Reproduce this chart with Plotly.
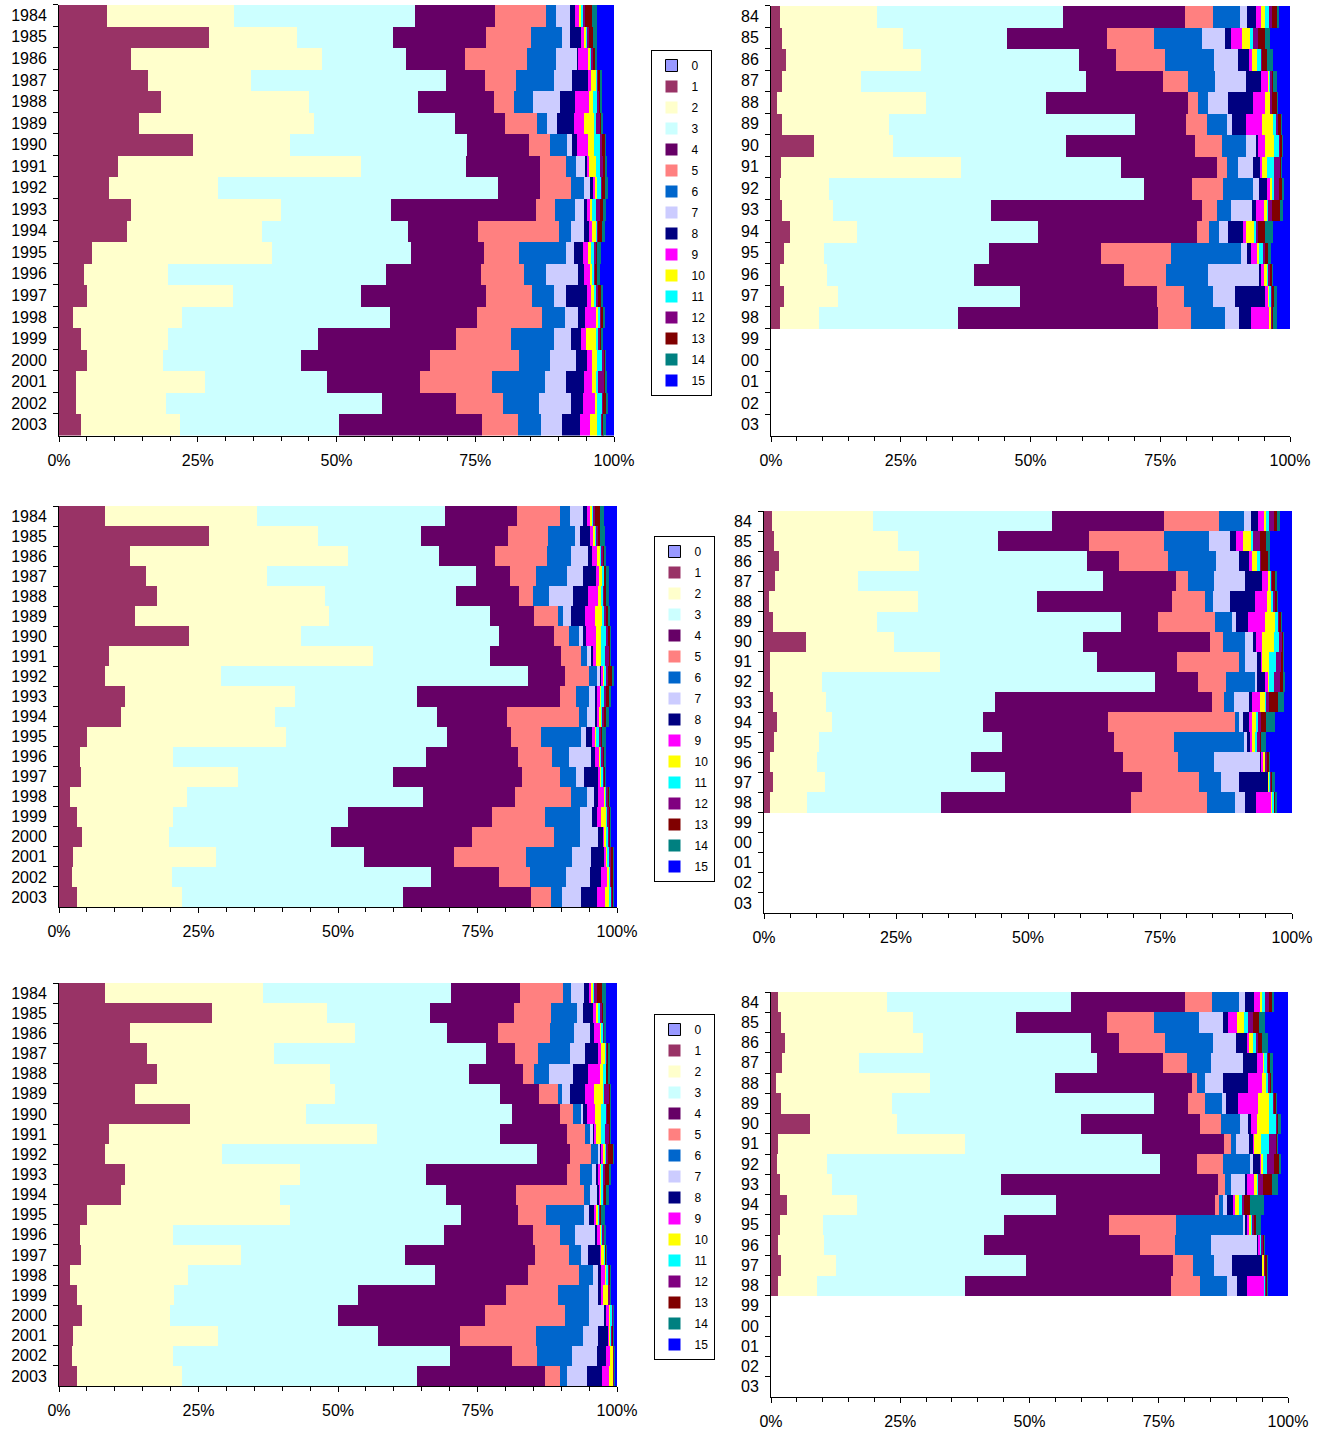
import plotly.graph_objects as go

# ---------------- data ----------------
categories = ["0", "1", "2", "3", "4", "5", "6", "7", "8", "9", "10", "11", "12", "13", "14", "15"]
colors = ["#9999FF", "#993366", "#FFFFCC", "#CCFFFF", "#660066", "#FF8080", "#0066CC", "#CCCCFF",
          "#000080", "#FF00FF", "#FFFF00", "#00FFFF", "#800080", "#800000", "#008080", "#0000FF"]

years_long = ["1984", "1985", "1986", "1987", "1988", "1989", "1990", "1991", "1992", "1993",
              "1994", "1995", "1996", "1997", "1998", "1999", "2000", "2001", "2002", "2003"]
years_short = ["84", "85", "86", "87", "88", "89", "90", "91", "92", "93",
               "94", "95", "96", "97", "98", "99", "00", "01", "02", "03"]
years_short_with_data = ["84", "85", "86", "87", "88", "89", "90", "91", "92", "93",
                         "94", "95", "96", "97", "98"]

x_tick_values = [0, 25, 50, 75, 100]
x_tick_labels = ["0%", "25%", "50%", "75%", "100%"]

# each row: one year, shares (%) of categories 0..15
top_left = [
    [0.0, 8.6, 22.9, 32.7, 14.4, 9.2, 1.8, 2.6, 0.9, 0.7, 0.5, 0.3, 0.3, 1.2, 0.9, 3.1],
    [0.0, 27.1, 15.8, 17.4, 16.7, 8.1, 5.6, 1.4, 2.1, 0.5, 0.4, 0.3, 0.2, 0.7, 0.7, 3.1],
    [0.0, 12.9, 34.6, 15.1, 10.7, 11.1, 5.2, 3.9, 0.1, 1.8, 0.4, 0.3, 0.2, 0.4, 0.4, 3.0],
    [0.0, 16.0, 18.6, 35.2, 7.0, 5.6, 6.7, 3.4, 2.9, 0.4, 0.9, 0.4, 0.1, 0.4, 0.3, 2.1],
    [0.0, 18.4, 26.7, 19.8, 13.7, 3.5, 3.4, 4.9, 2.8, 2.4, 0.8, 0.9, 0.2, 0.3, 0.3, 2.1],
    [0.0, 14.4, 31.7, 25.6, 8.9, 5.9, 1.8, 1.8, 3.0, 1.9, 1.8, 0.3, 0.8, 0.3, 0.2, 2.0],
    [0.0, 24.1, 17.4, 31.9, 11.2, 3.8, 3.0, 0.9, 0.9, 2.0, 1.1, 1.2, 0.3, 0.5, 0.2, 1.4],
    [0.0, 10.6, 43.9, 18.8, 13.3, 4.7, 1.8, 1.6, 0.5, 0.3, 1.3, 0.7, 0.5, 0.4, 0.3, 1.3],
    [0.0, 9.1, 19.7, 50.5, 7.6, 5.6, 2.4, 1.0, 0.7, 0.3, 0.3, 0.8, 0.2, 0.5, 0.5, 1.1],
    [0.0, 12.9, 27.2, 19.7, 26.2, 3.4, 3.6, 1.6, 0.7, 0.5, 0.3, 0.7, 0.7, 0.7, 0.5, 1.4],
    [0.0, 12.2, 24.5, 26.2, 12.7, 14.6, 2.2, 2.2, 1.0, 0.6, 0.7, 0.2, 0.1, 0.8, 0.5, 1.6],
    [0.0, 5.9, 32.5, 25.2, 13.2, 6.3, 8.5, 1.4, 1.6, 0.9, 0.6, 0.4, 0.5, 0.2, 0.7, 2.3],
    [0.0, 4.5, 15.1, 39.5, 17.0, 7.9, 3.9, 5.8, 1.1, 1.0, 0.6, 0.3, 0.2, 0.3, 0.4, 2.6],
    [0.0, 5.0, 26.4, 23.1, 22.6, 8.3, 4.0, 2.3, 3.8, 0.7, 0.6, 0.3, 0.3, 0.7, 0.2, 2.0],
    [0.0, 2.5, 19.6, 37.6, 15.7, 11.7, 4.1, 2.4, 1.2, 2.2, 0.2, 0.5, 0.2, 0.2, 0.4, 1.6],
    [0.0, 3.9, 15.7, 27.0, 24.9, 9.9, 7.8, 3.0, 1.8, 1.0, 1.9, 0.2, 0.4, 0.2, 0.4, 1.9],
    [0.0, 5.0, 13.7, 25.0, 23.3, 16.1, 5.6, 4.7, 2.0, 0.9, 0.9, 0.9, 0.4, 0.1, 0.2, 1.4],
    [0.0, 3.0, 23.4, 22.0, 16.8, 13.0, 9.6, 3.7, 3.3, 1.4, 0.9, 0.3, 1.0, 0.3, 0.2, 1.3],
    [0.0, 3.0, 16.2, 39.0, 13.3, 8.5, 6.5, 5.7, 2.2, 2.2, 0.4, 0.9, 0.2, 0.6, 0.2, 1.1],
    [0.0, 3.9, 18.0, 28.7, 25.8, 6.5, 4.2, 3.7, 3.3, 1.8, 1.2, 0.9, 0.1, 0.2, 0.5, 1.4],
]

mid_left = [
    [0.0, 8.2, 27.3, 33.7, 12.9, 7.7, 1.8, 2.3, 0.7, 0.5, 0.5, 0.2, 0.3, 0.9, 0.7, 2.3],
    [0.0, 27.0, 19.6, 18.5, 15.6, 7.2, 4.8, 0.9, 1.8, 0.6, 0.5, 0.2, 0.3, 0.3, 0.8, 2.2],
    [0.0, 12.7, 39.1, 16.3, 10.0, 9.3, 4.3, 3.1, 0.7, 1.0, 0.5, 0.3, 0.2, 0.3, 0.2, 2.0],
    [0.0, 15.7, 21.7, 37.5, 6.1, 4.7, 5.5, 2.9, 2.3, 0.6, 0.6, 0.3, 0.1, 0.2, 0.5, 1.5],
    [0.0, 17.5, 30.3, 23.4, 11.3, 2.5, 2.9, 4.3, 2.7, 1.8, 0.5, 0.5, 0.2, 0.3, 0.4, 1.5],
    [0.0, 13.6, 34.8, 28.8, 7.9, 4.3, 1.0, 1.4, 2.5, 1.8, 1.3, 0.3, 0.3, 0.5, 0.3, 1.2],
    [0.0, 23.3, 20.2, 35.4, 9.9, 2.7, 1.8, 0.7, 0.6, 1.8, 0.9, 0.9, 0.2, 0.5, 0.1, 1.1],
    [0.0, 8.9, 47.4, 21.1, 12.6, 3.6, 1.2, 0.7, 0.3, 0.5, 0.9, 0.7, 0.8, 0.2, 0.1, 1.1],
    [0.0, 8.2, 20.8, 55.1, 6.5, 4.3, 1.6, 0.5, 0.3, 0.2, 0.3, 0.3, 0.2, 0.9, 0.2, 0.6],
    [0.0, 11.8, 30.5, 21.9, 25.6, 2.9, 2.3, 1.2, 0.2, 0.7, 0.2, 0.3, 0.4, 0.5, 0.4, 1.1],
    [0.0, 11.1, 27.6, 29.1, 12.5, 12.9, 1.4, 1.4, 0.5, 0.2, 0.5, 0.2, 0.2, 0.4, 0.5, 1.5],
    [0.0, 5.0, 35.7, 28.9, 11.5, 5.4, 7.2, 1.0, 1.0, 0.7, 0.2, 0.3, 0.5, 0.1, 0.7, 2.0],
    [0.0, 3.7, 16.7, 45.5, 16.5, 6.1, 2.9, 4.1, 0.7, 0.7, 0.3, 0.1, 0.4, 0.2, 0.2, 2.0],
    [0.0, 4.0, 28.2, 27.7, 23.3, 6.7, 2.9, 1.4, 2.5, 0.4, 0.4, 0.3, 0.2, 0.1, 0.2, 1.9],
    [0.0, 1.9, 21.0, 42.2, 16.6, 9.9, 3.0, 1.1, 0.8, 1.2, 0.1, 0.1, 0.4, 0.3, 0.1, 1.2],
    [0.0, 3.3, 17.1, 31.4, 25.8, 9.5, 6.3, 2.2, 0.9, 0.7, 0.9, 0.1, 0.4, 0.3, 0.1, 1.0],
    [0.0, 4.2, 15.5, 29.1, 25.2, 14.7, 4.6, 3.3, 1.0, 0.2, 0.3, 0.4, 0.2, 0.1, 0.2, 1.0],
    [0.0, 2.6, 25.5, 26.7, 16.0, 12.9, 8.4, 3.4, 2.2, 0.5, 0.2, 0.2, 0.5, 0.4, 0.1, 0.5],
    [0.0, 2.3, 17.9, 46.4, 12.2, 5.6, 6.5, 4.3, 2.0, 1.0, 0.5, 0.1, 0.2, 0.4, 0.1, 0.5],
    [0.0, 3.2, 18.8, 39.7, 23.0, 3.6, 2.0, 3.4, 2.9, 1.4, 0.9, 0.3, 0.2, 0.1, 0.2, 0.5],
]

bot_left = [
    [0.0, 8.2, 28.3, 33.6, 12.5, 7.7, 1.4, 2.3, 0.9, 0.5, 0.3, 0.1, 0.5, 1.0, 0.7, 1.9],
    [0.0, 27.4, 20.6, 18.5, 15.1, 6.6, 4.7, 1.0, 1.8, 0.6, 0.3, 0.5, 0.3, 0.1, 0.6, 1.9],
    [0.0, 12.7, 40.5, 16.4, 9.3, 9.2, 4.3, 3.0, 0.6, 1.2, 0.3, 0.3, 0.1, 0.1, 0.3, 1.9],
    [0.0, 15.7, 22.8, 38.1, 5.2, 4.2, 5.7, 2.7, 2.3, 0.5, 0.9, 0.2, 0.1, 0.1, 0.4, 1.2],
    [0.0, 17.5, 31.2, 24.8, 9.7, 2.0, 2.7, 4.3, 2.7, 2.2, 0.4, 0.7, 0.1, 0.1, 0.5, 1.2],
    [0.0, 13.6, 35.9, 29.6, 7.0, 3.5, 0.7, 1.4, 2.7, 1.6, 1.6, 0.2, 0.9, 0.2, 0.1, 1.1],
    [0.0, 23.4, 20.8, 36.8, 8.6, 2.3, 1.4, 0.5, 0.7, 1.3, 1.2, 1.0, 0.1, 0.5, 0.1, 1.1],
    [0.0, 8.9, 48.1, 22.0, 12.0, 3.1, 0.9, 0.7, 0.2, 0.3, 0.8, 0.7, 0.8, 0.2, 0.1, 1.1],
    [0.0, 8.2, 21.1, 56.6, 5.9, 3.8, 1.1, 0.5, 0.3, 0.2, 0.4, 0.2, 0.2, 1.0, 0.1, 0.6],
    [0.0, 11.8, 31.4, 22.6, 25.4, 2.3, 2.2, 0.8, 0.2, 0.5, 0.2, 0.2, 0.4, 0.6, 0.4, 1.1],
    [0.0, 11.1, 28.5, 29.8, 12.5, 12.2, 1.1, 1.2, 0.4, 0.2, 0.3, 0.2, 0.1, 0.5, 0.5, 1.4],
    [0.0, 5.0, 36.4, 30.7, 10.4, 5.0, 6.7, 0.9, 1.0, 0.5, 0.2, 0.3, 0.2, 0.1, 0.6, 2.2],
    [0.0, 3.7, 16.8, 48.5, 16.0, 4.8, 2.7, 3.8, 0.3, 0.6, 0.2, 0.1, 0.3, 0.1, 0.2, 2.0],
    [0.0, 4.0, 28.6, 29.6, 23.3, 6.1, 2.2, 1.2, 2.2, 0.1, 0.7, 0.1, 0.1, 0.1, 0.1, 1.8],
    [0.0, 1.9, 21.2, 44.2, 16.8, 9.1, 2.5, 0.9, 0.5, 0.9, 0.1, 0.3, 0.3, 0.1, 0.1, 1.1],
    [0.0, 3.3, 17.2, 33.1, 26.5, 9.3, 5.5, 1.6, 0.7, 0.2, 0.9, 0.1, 0.3, 0.1, 0.1, 1.0],
    [0.0, 4.2, 15.8, 30.1, 26.4, 14.2, 4.3, 2.7, 0.5, 0.5, 0.2, 0.4, 0.1, 0.1, 0.1, 0.5],
    [0.0, 2.6, 26.0, 28.7, 14.7, 13.6, 8.4, 2.7, 1.8, 0.3, 0.1, 0.3, 0.1, 0.1, 0.1, 0.6],
    [0.0, 2.3, 18.1, 49.8, 11.0, 4.5, 6.3, 4.5, 1.6, 0.8, 0.5, 0.1, 0.1, 0.1, 0.1, 0.3],
    [0.0, 3.2, 18.8, 42.2, 23.0, 2.7, 1.2, 3.6, 2.7, 1.2, 0.8, 0.1, 0.1, 0.1, 0.1, 0.3],
]

top_right = [
    [0.0, 1.7, 18.7, 35.8, 23.5, 5.4, 5.2, 1.4, 1.7, 1.0, 0.6, 0.8, 0.7, 0.9, 0.4, 2.1],
    [0.0, 2.1, 23.3, 20.1, 19.3, 9.0, 9.3, 4.4, 1.2, 2.1, 1.5, 0.6, 1.0, 1.2, 1.0, 3.9],
    [0.0, 2.9, 26.0, 30.4, 7.2, 9.4, 9.4, 4.6, 2.1, 0.6, 0.9, 0.9, 0.2, 0.9, 1.1, 3.3],
    [0.0, 2.1, 15.2, 43.4, 14.7, 4.9, 5.2, 6.0, 2.9, 1.3, 0.3, 0.2, 0.3, 0.2, 0.7, 2.5],
    [0.0, 1.2, 28.7, 23.1, 27.2, 1.9, 2.1, 3.7, 4.8, 2.4, 1.0, 0.1, 0.2, 1.0, 0.1, 2.4],
    [0.0, 2.1, 20.6, 47.6, 9.8, 3.9, 3.9, 1.0, 2.7, 3.1, 2.1, 0.7, 0.2, 0.7, 0.2, 1.5],
    [0.0, 8.3, 15.2, 33.2, 24.8, 5.2, 4.6, 2.0, 0.3, 1.4, 1.8, 1.0, 0.2, 0.3, 0.1, 1.4],
    [0.0, 1.9, 34.7, 30.8, 18.5, 1.9, 2.1, 2.9, 1.4, 0.3, 1.0, 1.4, 1.0, 0.4, 0.1, 1.5],
    [0.0, 1.7, 9.4, 60.7, 9.3, 5.9, 5.8, 1.2, 1.6, 0.6, 0.3, 0.4, 1.0, 0.6, 0.3, 1.2],
    [0.0, 2.1, 9.8, 30.5, 40.8, 2.9, 2.8, 3.9, 0.8, 1.5, 0.8, 0.1, 0.7, 1.5, 0.6, 1.4],
    [0.0, 3.6, 12.9, 34.8, 30.7, 2.3, 1.9, 1.7, 2.9, 0.6, 1.5, 0.5, 0.3, 1.3, 1.6, 3.3],
    [0.0, 2.5, 7.8, 31.7, 21.6, 13.5, 13.5, 1.2, 0.8, 1.2, 0.3, 0.7, 0.5, 0.6, 0.6, 3.6],
    [0.0, 1.7, 9.0, 28.4, 28.9, 8.1, 8.1, 9.8, 0.4, 0.5, 0.7, 0.1, 0.5, 0.4, 0.1, 3.3],
    [0.0, 2.5, 10.4, 35.1, 26.4, 5.2, 5.6, 4.3, 5.8, 0.6, 0.3, 0.3, 0.2, 0.3, 0.6, 2.5],
    [0.0, 1.7, 7.5, 26.8, 38.4, 6.5, 6.5, 2.7, 2.3, 3.6, 0.3, 0.1, 0.1, 0.1, 0.8, 2.5],
]

mid_right = [
    [0.0, 1.5, 19.1, 33.9, 21.2, 10.4, 4.9, 1.3, 1.3, 1.1, 0.3, 0.7, 0.9, 0.6, 0.6, 2.2],
    [0.0, 1.9, 23.4, 19.0, 17.2, 14.2, 8.5, 4.0, 1.1, 1.5, 1.4, 0.5, 1.2, 1.1, 0.9, 4.1],
    [0.0, 2.9, 26.5, 31.8, 6.1, 9.2, 9.1, 4.5, 1.9, 0.6, 0.8, 0.7, 0.1, 1.3, 0.5, 4.1],
    [0.0, 2.1, 15.7, 46.4, 13.8, 2.2, 5.0, 5.9, 3.1, 1.3, 0.2, 0.4, 0.2, 0.3, 0.5, 2.8],
    [0.0, 1.0, 28.2, 22.5, 25.5, 6.2, 1.5, 3.2, 4.8, 2.2, 1.0, 0.2, 0.4, 0.5, 0.1, 2.6],
    [0.0, 1.7, 19.7, 46.1, 7.0, 10.8, 3.2, 0.8, 2.3, 3.2, 1.9, 0.6, 0.2, 0.4, 0.2, 1.8],
    [0.0, 8.0, 16.6, 35.8, 24.0, 2.4, 4.2, 1.7, 0.3, 1.3, 2.1, 1.1, 0.6, 0.1, 0.1, 1.6],
    [0.0, 1.1, 32.2, 29.7, 15.2, 11.7, 1.2, 2.2, 0.9, 0.1, 1.2, 1.3, 1.1, 0.3, 0.1, 1.6],
    [0.0, 1.1, 9.9, 63.2, 8.1, 5.3, 5.5, 0.4, 1.5, 0.6, 0.2, 0.8, 1.3, 0.6, 0.3, 1.3],
    [0.0, 1.7, 10.0, 32.1, 41.1, 2.2, 2.0, 2.8, 0.6, 1.5, 0.9, 0.1, 0.7, 1.7, 1.0, 1.6],
    [0.0, 2.4, 10.4, 28.8, 23.7, 23.9, 0.9, 0.8, 1.1, 0.6, 0.8, 0.2, 0.6, 0.9, 1.7, 3.3],
    [0.0, 1.9, 8.5, 34.6, 21.3, 11.3, 13.3, 0.6, 0.6, 0.5, 0.3, 0.5, 0.6, 0.2, 0.8, 5.0],
    [0.0, 1.1, 8.9, 29.2, 28.9, 10.4, 6.8, 8.9, 0.1, 0.4, 0.3, 0.1, 0.3, 0.5, 0.1, 4.1],
    [0.0, 1.7, 9.8, 34.1, 25.9, 10.8, 4.3, 3.4, 5.5, 0.1, 0.2, 0.2, 0.1, 0.2, 0.4, 3.3],
    [0.0, 1.1, 7.0, 25.4, 35.9, 14.4, 5.3, 2.0, 1.9, 3.1, 0.1, 0.3, 0.1, 0.1, 0.3, 2.9],
]

bot_right = [
    [0.0, 1.4, 21.1, 35.5, 22.1, 5.2, 5.2, 1.2, 1.7, 1.1, 0.4, 0.6, 0.9, 0.5, 0.4, 2.7],
    [0.0, 1.9, 25.5, 20.0, 17.6, 9.0, 8.7, 4.7, 1.0, 1.7, 1.4, 0.8, 0.9, 1.1, 1.2, 4.5],
    [0.0, 2.7, 26.7, 32.3, 5.4, 8.9, 9.3, 4.4, 2.1, 0.4, 0.8, 0.8, 0.2, 0.7, 1.2, 3.9],
    [0.0, 2.1, 15.0, 45.9, 12.8, 4.6, 4.7, 6.2, 2.7, 1.3, 0.1, 0.6, 0.2, 0.4, 0.5, 2.9],
    [0.0, 0.9, 29.9, 24.0, 26.5, 1.1, 1.4, 3.5, 4.9, 2.7, 0.9, 0.2, 0.4, 0.4, 0.2, 2.9],
    [0.0, 1.9, 21.5, 50.7, 6.6, 3.3, 3.3, 0.8, 2.3, 3.7, 2.3, 0.8, 0.2, 0.3, 0.2, 2.1],
    [0.0, 7.5, 16.8, 35.7, 23.1, 4.0, 3.7, 1.5, 0.6, 1.2, 2.3, 1.4, 0.2, 0.1, 0.6, 1.4],
    [0.0, 1.4, 36.0, 34.2, 15.9, 1.4, 0.9, 2.5, 1.0, 0.1, 1.2, 1.7, 1.3, 0.3, 0.1, 1.9],
    [0.0, 1.1, 9.7, 64.5, 7.2, 5.1, 5.2, 0.6, 1.3, 0.4, 0.3, 0.8, 1.3, 1.0, 0.4, 1.3],
    [0.0, 1.7, 10.1, 32.7, 41.8, 1.5, 1.1, 2.6, 0.5, 1.4, 0.6, 0.1, 0.9, 1.9, 1.1, 1.9],
    [0.0, 3.1, 13.5, 38.5, 30.6, 0.8, 0.8, 0.8, 1.1, 0.4, 0.8, 0.5, 0.4, 1.1, 2.7, 4.7],
    [0.0, 1.7, 8.3, 35.1, 20.3, 13.1, 13.0, 0.2, 0.4, 0.4, 0.4, 0.4, 0.3, 0.4, 0.8, 5.3],
    [0.0, 1.4, 8.9, 31.0, 30.2, 6.8, 6.9, 9.0, 0.1, 0.4, 0.1, 0.1, 0.3, 0.4, 0.1, 4.4],
    [0.0, 1.9, 10.7, 36.7, 28.5, 3.9, 4.0, 3.5, 5.8, 0.1, 0.3, 0.1, 0.1, 0.4, 0.1, 3.9],
    [0.0, 1.4, 7.5, 28.7, 39.9, 5.7, 5.2, 1.9, 1.9, 3.4, 0.1, 0.1, 0.1, 0.4, 0.1, 3.8],
]

# ---------------- layout helpers ----------------
W, H = 1328, 1433
FONT = "Liberation Sans, Arial, sans-serif"


def xdom(left, right):
    return [left / W, right / W]


def ydom(top, bottom):
    return [1 - bottom / H, 1 - top / H]


panels = [
    dict(rows=top_left, ylab=years_long, cats=years_long, xpx=(59, 614), ypx=(4.5, 435.5), legend="legend"),
    dict(rows=top_right, ylab=years_short_with_data, cats=years_short, xpx=(771, 1290), ypx=(5.5, 435.5), legend=None),
    dict(rows=mid_left, ylab=years_long, cats=years_long, xpx=(59, 617), ypx=(506, 907), legend="legend2"),
    dict(rows=mid_right, ylab=years_short_with_data, cats=years_short, xpx=(764, 1292), ypx=(511, 913), legend=None),
    dict(rows=bot_left, ylab=years_long, cats=years_long, xpx=(59, 617), ypx=(983, 1386), legend="legend3"),
    dict(rows=bot_right, ylab=years_short_with_data, cats=years_short, xpx=(771, 1288), ypx=(992, 1397), legend=None),
]

fig = go.Figure()
layout_axes = {}

for i, p in enumerate(panels):
    n = "" if i == 0 else str(i + 1)
    xref, yref = "x" + n, "y" + n
    for k, cat in enumerate(categories):
        vals = [row[k] for row in p["rows"]]
        fig.add_trace(go.Bar(
            x=vals, y=p["ylab"], orientation="h",
            name=cat, legendgroup="c" + cat,
            showlegend=p["legend"] is not None,
            legend=p["legend"] if p["legend"] else "legend",
            marker=dict(color=colors[k],
                        line=dict(width=1 if k == 0 else 0, color="black")),
            xaxis=xref, yaxis=yref,
            hovertemplate="%{y}: %{x:.1f}%<extra>" + cat + "</extra>",
        ))
    layout_axes["xaxis" + n] = dict(
        domain=xdom(*p["xpx"]), anchor=yref, range=[0, 100],
        tickmode="array", tickvals=x_tick_values, ticktext=x_tick_labels,
        ticks="outside", ticklen=5, tickcolor="black", tickwidth=1,
        minor=dict(dtick=5, tick0=0, ticks="outside", ticklen=4, tickcolor="black", tickwidth=1),
        showline=True, linecolor="black", linewidth=1,
        showgrid=False, zeroline=False, automargin=False,
        tickfont=dict(family=FONT, size=16, color="black"),
        ticklabelstandoff=5, fixedrange=True,
    )
    layout_axes["yaxis" + n] = dict(
        domain=ydom(*p["ypx"]), anchor=xref, type="category",
        categoryorder="array", categoryarray=p["cats"],
        range=[len(p["cats"]) - 0.5, -0.5],
        ticks="outside", tickson="boundaries", ticklen=5, tickcolor="black", tickwidth=1,
        showline=True, linecolor="black", linewidth=1,
        showgrid=False, zeroline=False, automargin=False,
        tickfont=dict(family=FONT, size=16, color="black"),
        ticklabelstandoff=8, fixedrange=True,
    )

legend_style = dict(
    xanchor="center", yanchor="middle",
    bordercolor="black", borderwidth=1, bgcolor="white",
    font=dict(family=FONT, size=12, color="black"),
    traceorder="grouped", tracegroupgap=2, itemwidth=30,
    orientation="v",
)

fig.update_layout(
    width=W, height=H, autosize=False,
    margin=dict(l=0, r=0, t=0, b=0),
    paper_bgcolor="white", plot_bgcolor="white",
    barmode="stack", barnorm="percent", bargap=0,
    font=dict(family=FONT, size=12, color="black"),
    legend=dict(x=681 / W, y=1 - 223 / H, **legend_style),
    legend2=dict(x=684 / W, y=1 - 709 / H, **legend_style),
    legend3=dict(x=684 / W, y=1 - 1187 / H, **legend_style),
    **layout_axes,
)

# remove the default page margin so the figure sits at the window's top-left corner
fig.write_html(
    "out.html",
    config={"displayModeBar": False},
    post_script="document.documentElement.style.margin='0';document.body.style.margin='0';"
                "document.body.style.padding='0';document.body.style.overflow='hidden';",
)
